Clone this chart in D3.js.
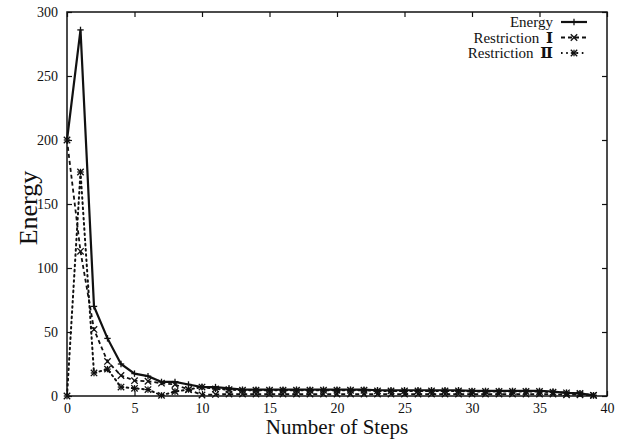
<!DOCTYPE html>
<html>
<head>
<meta charset="utf-8">
<script src="https://cdn.jsdelivr.net/npm/d3@7"></script>
<style>
  body { margin: 0; background: #fff; }
  text { font-family: "Liberation Serif", "DejaVu Serif", serif; fill: #111; }
</style>
</head>
<body>
<div class="chart"></div>
<script>
var svgWidth = 620;
var svgHeight = 442;
var margin = { top: 12, right: 13, bottom: 46, left: 67 };
var width = svgWidth - margin.left - margin.right;
var height = svgHeight - margin.top - margin.bottom;

// data
var steps = d3.range(0, 40);
var energy = [200, 286, 70, 45, 25, 17.5, 15.5, 11, 11, 9, 7, 7, 6, 5, 5, 5, 5, 5, 5, 5,
  5, 5, 5, 4.5, 4.5, 4.5, 4.5, 4.5, 4.5, 4.5, 4, 4, 4, 4, 4, 4, 3.5, 2.5, 2, 0.5];
var restriction1 = [200, 113, 52, 27, 16, 12, 11.5, 10, 9, 5, 0.8, 1.2, 1.5, 1.5, 1.5, 1.5, 1.5, 1.5, 1.5, 1.5,
  1.5, 1.5, 1.5, 1.5, 1.5, 1.5, 1.5, 1.5, 1.5, 1.5, 1.5, 1.5, 1.5, 1.5, 1.5, 1.5, 1.5, 1, 1, 0.5];
var restriction2 = [0, 175, 18, 21, 7, 6, 5, 0.5, 3.5, 5, 7, 5.5, 5, 4.5, 4.5, 4.5, 4.5, 4.5, 4.5, 4.5,
  4.5, 4.5, 4.5, 4, 4, 4, 4, 4, 4, 4, 3.5, 3.5, 3.5, 3.5, 3.5, 3.5, 3, 2.5, 2, 0.5];
var xTicks = [0, 5, 10, 15, 20, 25, 30, 35, 40];
var yTicks = [0, 50, 100, 150, 200, 250, 300];

var svg = d3.select(".chart").append("svg")
  .attr("width", svgWidth)
  .attr("height", svgHeight);

var chart = svg.append("g")
  .attr("transform", "translate(" + margin.left + "," + margin.top + ")");

var x = d3.scaleLinear().domain([0, 40]).range([0, width]);
var y = d3.scaleLinear().domain([0, 300]).range([height, 0]);

// axes with inward ticks, on all four sides
function styleAxis(g) {
  g.select(".domain").remove();
  g.selectAll("line").attr("stroke", "#111").attr("stroke-width", 1.2);
  g.selectAll("text").attr("font-size", 14).attr("fill", "#111")
    .style("font-family", "'Liberation Serif', serif");
}
chart.append("g").attr("transform", "translate(0," + height + ")")
  .call(d3.axisBottom(x).tickValues(xTicks).tickSizeInner(-5).tickPadding(7))
  .call(styleAxis);
chart.append("g")
  .call(d3.axisTop(x).tickValues(xTicks).tickSizeInner(-5).tickFormat(""))
  .call(styleAxis);
chart.append("g")
  .call(d3.axisLeft(y).tickValues(yTicks).tickSizeInner(-5).tickPadding(9))
  .call(styleAxis);
chart.append("g").attr("transform", "translate(" + width + ",0)")
  .call(d3.axisRight(y).tickValues(yTicks).tickSizeInner(-5).tickFormat(""))
  .call(styleAxis);

chart.append("rect")
  .attr("width", width).attr("height", height)
  .attr("fill", "none").attr("stroke", "#111").attr("stroke-width", 1.5);

var line = d3.line()
  .x(function(d, i) { return x(steps[i]); })
  .y(function(d) { return y(d); });

var series = [
  { name: "Energy", values: energy, dash: null, width: 2.2, marker: "plus" },
  { name: "Restriction ", num: "Ⅰ", values: restriction1, dash: "4,3", width: 1.8, marker: "cross" },
  { name: "Restriction ", num: "Ⅱ", values: restriction2, dash: "1.6,3.6", width: 2, marker: "star" }
];

function drawMarker(g, type, cx, cy) {
  var s = 3.2;
  var m = g.append("g").attr("transform", "translate(" + cx + "," + cy + ")")
    .attr("stroke", "#111").attr("stroke-width", 1.3);
  if (type === "plus" || type === "star") {
    m.append("line").attr("x1", -s).attr("x2", s).attr("y1", 0).attr("y2", 0);
    m.append("line").attr("x1", 0).attr("x2", 0).attr("y1", -s).attr("y2", s);
  }
  if (type === "cross" || type === "star") {
    m.append("line").attr("x1", -s).attr("x2", s).attr("y1", -s).attr("y2", s);
    m.append("line").attr("x1", -s).attr("x2", s).attr("y1", s).attr("y2", -s);
  }
}

series.forEach(function(s) {
  chart.append("path")
    .datum(s.values)
    .attr("d", line)
    .attr("fill", "none")
    .attr("stroke", "#111")
    .attr("stroke-width", s.width)
    .attr("stroke-dasharray", s.dash)
    .attr("stroke-linecap", s.dash === "1.6,3.6" ? "round" : "butt");
  s.values.forEach(function(v, i) {
    drawMarker(chart, s.marker, x(steps[i]), y(v));
  });
});

// legend, top right
var legend = chart.append("g").attr("transform", "translate(" + (width - 48) + ",0)");
series.forEach(function(s, i) {
  var ly = 10 + i * 15.5;
  var t = legend.append("text")
    .attr("x", -6).attr("y", ly + 5)
    .attr("text-anchor", "end")
    .attr("font-size", 15);
  t.append("tspan").text(s.name);
  if (s.num) t.append("tspan").attr("font-weight", "bold").attr("dx", 3).text(s.num);
  legend.append("line")
    .attr("x1", 2).attr("x2", 28).attr("y1", ly).attr("y2", ly)
    .attr("stroke", "#111").attr("stroke-width", s.width)
    .attr("stroke-dasharray", s.dash);
  drawMarker(legend, s.marker, 15, ly);
});

// axis titles
chart.append("text")
  .attr("x", width / 2).attr("y", height + 38)
  .attr("text-anchor", "middle")
  .attr("font-size", 21)
  .text("Number of Steps");

chart.append("text")
  .attr("transform", "rotate(-90)")
  .attr("x", -196).attr("y", -30)
  .attr("text-anchor", "middle")
  .attr("font-size", 26)
  .text("Energy");
</script>
</body>
</html>
